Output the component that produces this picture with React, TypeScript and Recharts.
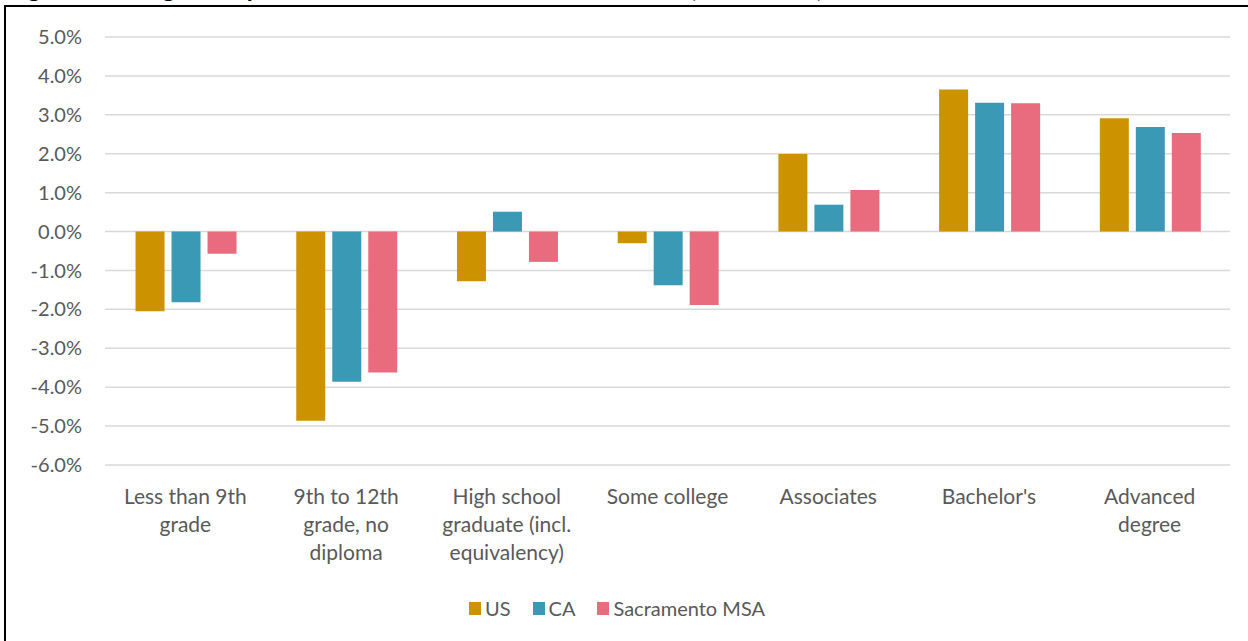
import { BarChart, Bar, XAxis, YAxis, CartesianGrid, Legend } from 'recharts'

const categories = [
  'Less than 9th\ngrade',
  '9th to 12th\ngrade, no\ndiploma',
  'High school\ngraduate (incl.\nequivalency)',
  'Some college',
  'Associates',
  "Bachelor's",
  'Advanced\ndegree',
]
const usValues = [-2.05, -4.86, -1.28, -0.3, 1.99, 3.65, 2.91]
const caValues = [-1.82, -3.86, 0.51, -1.38, 0.69, 3.31, 2.69]
const sacValues = [-0.57, -3.62, -0.78, -1.89, 1.07, 3.3, 2.53]
const yTicks = [-6, -5, -4, -3, -2, -1, 0, 1, 2, 3, 4, 5]
const seriesNames = ['US', 'CA', 'Sacramento MSA']

const data = categories.map((name, i) => ({
  name,
  us: usValues[i],
  ca: caValues[i],
  sac: sacValues[i],
}))

const FONT = 'Lato, "Open Sans", sans-serif'
const GRAY = '#595959'

function CategoryTick(props: any) {
  const { x, y, payload } = props
  const lines = String(payload.value).split('\n')
  return (
    <text x={x} y={y} textAnchor="middle" fill={GRAY} fontSize={21} fontFamily={FONT}>
      {lines.map((line, i) => (
        <tspan key={i} x={x} dy={i === 0 ? 31 : 28}>
          {line}
        </tspan>
      ))}
    </text>
  )
}

function LegendContent(props: any) {
  const items = [...(props.payload || [])].sort(
    (a: any, b: any) => seriesNames.indexOf(a.value) - seriesNames.indexOf(b.value)
  )
  return (
    <div style={{ display: 'flex', justifyContent: 'center', fontFamily: FONT, fontSize: 20, color: GRAY, paddingLeft: 8 }}>
      {items.map((item: any) => (
        <div key={item.value} style={{ display: 'flex', alignItems: 'center', marginRight: 22 }}>
          <span style={{ width: 12, height: 13, background: item.color, display: 'inline-block', marginRight: 4 }} />
          <span>{item.value}</span>
        </div>
      ))}
    </div>
  )
}

export default function App() {
  return (
    <div style={{ position: 'fixed', left: 0, top: 0, width: 1248, height: 641, overflow: 'hidden', background: '#fff' }}>
      <div
        style={{
          position: 'absolute',
          left: 8,
          top: -27,
          whiteSpace: 'nowrap',
          fontFamily: FONT,
          fontWeight: 700,
          fontSize: 24,
          lineHeight: '29px',
          color: '#000',
        }}
      >
        Figure 9: Change in Population Share of Educational Attainment (2010-2019)
      </div>
      <div
        style={{
          position: 'absolute',
          left: 4,
          top: 5,
          width: 1300,
          height: 700,
          borderLeft: '2px solid #000',
          borderTop: '2px solid #000',
          background: '#fff',
        }}
      />
      <div style={{ position: 'absolute', left: 0, top: 0 }}>
        <BarChart
          width={1248}
          height={641}
          data={data}
          margin={{ top: 37, right: 18, bottom: 76, left: 0 }}
          barCategoryGap="19%"
          barGap={7}
        >
          <CartesianGrid vertical={false} stroke="#D9D9D9" strokeWidth={1.5} />
          <XAxis
            dataKey="name"
            axisLine={false}
            tickLine={false}
            interval={0}
            height={100}
            tick={<CategoryTick />}
          />
          <YAxis
            width={105}
            domain={[-6, 5]}
            ticks={yTicks}
            axisLine={false}
            tickLine={false}
            tickMargin={17}
            tickFormatter={(v: number) => `${v.toFixed(1)}%`}
            tick={{ fill: GRAY, fontSize: 20, fontFamily: FONT }}
          />
          <Legend
            verticalAlign="middle"
            content={<LegendContent />}
            wrapperStyle={{ top: 596, left: 0, width: 1248 }}
          />
          <Bar dataKey="us" name={seriesNames[0]} fill="#CC9200" isAnimationActive={false} />
          <Bar dataKey="ca" name={seriesNames[1]} fill="#3A9AB5" isAnimationActive={false} />
          <Bar dataKey="sac" name={seriesNames[2]} fill="#E86B7E" isAnimationActive={false} />
        </BarChart>
      </div>
    </div>
  )
}
